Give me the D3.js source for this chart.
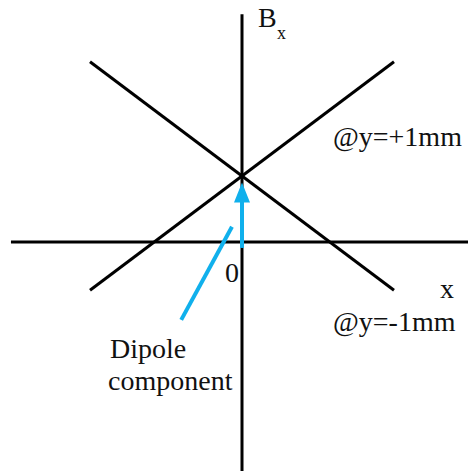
<!DOCTYPE html>
<html>
<head>
<meta charset="utf-8">
<script src="https://cdn.jsdelivr.net/npm/d3@7"></script>
<style>
  html, body { margin: 0; padding: 0; background: #fff; }
</style>
</head>
<body>
<div id="chart"></div>
<script>
// field lines: Bx against x, one line per y offset
const lineNames = ["@y=+1mm", "@y=-1mm"];
const xEnds = [-1, 1];
const bPlus = [-0.73, 2.73];
const bMinus = [2.73, -0.73];

// axis extents (data units)
const xAxisExtent = [-1.52, 1.49];
const bAxisExtent = [-3.5, 3.45];

// dipole arrow and the pointer to it
const dipoleArrow = { x: 0, from: -0.09, to: 0.9 };
const pointerX = [-0.066, -0.40];
const pointerB = [0.23, -1.18];

const width = 468, height = 471;
const serif = "'Liberation Serif', 'Times New Roman', Times, 'DejaVu Serif', serif";

const x = d3.scaleLinear().domain([-1, 1]).range([90, 394]);
const y = d3.scaleLinear().domain([0, 1]).range([242, 176]);

const svg = d3.select("#chart").append("svg")
  .attr("width", width)
  .attr("height", height)
  .attr("font-family", serif);

// =====================
// AXES
// =====================
svg.append("line")
  .attr("x1", x(xAxisExtent[0])).attr("x2", x(xAxisExtent[1]))
  .attr("y1", y(0)).attr("y2", y(0))
  .attr("stroke", "#000").attr("stroke-width", 3);

svg.append("line")
  .attr("x1", x(0)).attr("x2", x(0))
  .attr("y1", y(bAxisExtent[0])).attr("y2", y(bAxisExtent[1]))
  .attr("stroke", "#000").attr("stroke-width", 3);

// =====================
// FIELD LINES
// =====================
const line = d3.line().x(d => x(d[0])).y(d => y(d[1]));
[bPlus, bMinus].forEach(vals => {
  svg.append("path")
    .attr("d", line(xEnds.map((v, i) => [v, vals[i]])))
    .attr("fill", "none")
    .attr("stroke", "#000")
    .attr("stroke-width", 3);
});

// =====================
// DIPOLE ARROW
// =====================
const blue = "#10b0ec";
const headLen = 20, headHalf = 8;
const tipPx = y(dipoleArrow.to);
svg.append("line")
  .attr("x1", x(dipoleArrow.x)).attr("x2", x(dipoleArrow.x))
  .attr("y1", y(dipoleArrow.from)).attr("y2", tipPx + headLen - 1)
  .attr("stroke", blue).attr("stroke-width", 4);
svg.append("path")
  .attr("d", `M${x(dipoleArrow.x)},${tipPx} L${x(dipoleArrow.x) - headHalf},${tipPx + headLen} L${x(dipoleArrow.x) + headHalf},${tipPx + headLen} Z`)
  .attr("fill", blue);

svg.append("path")
  .attr("d", line(pointerX.map((v, i) => [v, pointerB[i]])))
  .attr("fill", "none")
  .attr("stroke", blue)
  .attr("stroke-width", 4);

// =====================
// LABELS
// =====================
function label(px, py, txt, size) {
  return svg.append("text")
    .attr("x", px).attr("y", py)
    .attr("font-family", serif)
    .attr("font-size", size)
    .attr("fill", "#111")
    .text(txt);
}

const B = label(258, 27, "B", 28);
B.append("tspan").attr("x", 277).attr("y", 39).attr("font-size", 18).text("x");

label(440, 298, "x", 28);
label(225, 282, "0", 28);

label(333, 146, lineNames[0], 28);
label(333, 331, lineNames[1], 28);

label(110, 358, "Dipole", 28);
label(108, 390, "component", 28);
</script>
</body>
</html>
